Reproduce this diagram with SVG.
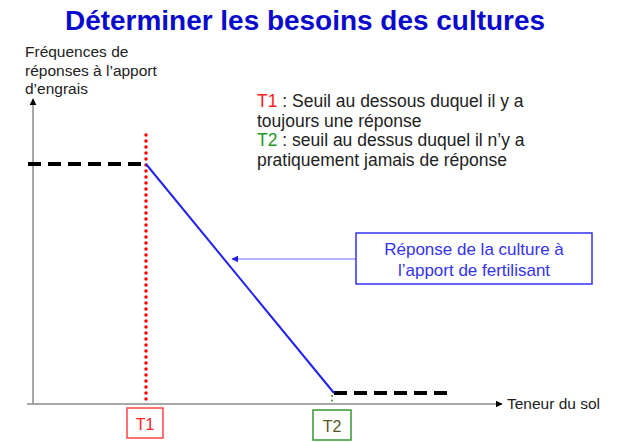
<svg xmlns="http://www.w3.org/2000/svg" width="642" height="442" viewBox="0 0 642 442">
<style>
text{font-family:"Liberation Sans",Arial,sans-serif;}
.title{font-size:28px;font-weight:bold;fill:#0A0ACC;}
.lbl{font-size:15.5px;fill:#222;}
.txt{font-size:17.5px;fill:#222;}
.call{font-size:17px;fill:#3333EE;}
.axis{stroke:#8a8a8a;stroke-width:1.5;fill:none;}
.dash{stroke:#000;stroke-width:4;stroke-dasharray:13 7;fill:none;}
</style>
<defs>
<marker id="ah" viewBox="0 0 10 10" refX="9" refY="5" markerWidth="7" markerHeight="7" markerUnits="userSpaceOnUse" orient="auto">
<path d="M0,0 L10,5 L0,10 z" fill="#000"/>
</marker>
<marker id="ahb" viewBox="0 0 10 10" refX="9" refY="5" markerWidth="7" markerHeight="7" markerUnits="userSpaceOnUse" orient="auto">
<path d="M0,0 L10,5 L0,10 z" fill="#2222DD"/>
</marker>
</defs>
<rect width="642" height="442" fill="#fff"/>
<text class="title" x="305" y="30" text-anchor="middle" textLength="480" lengthAdjust="spacingAndGlyphs">Déterminer les besoins des cultures</text>

<g id="y-axis-label">
<text class="lbl" x="25" y="57">Fréquences de</text>
<text class="lbl" x="25" y="76">réponses à l’apport</text>
<text class="lbl" x="25" y="94">d’engrais</text>
</g>

<g id="legend">
<text class="txt" x="257" y="107"><tspan fill="#FF2222">T1</tspan> : Seuil au dessous duquel il y a</text>
<text class="txt" x="257" y="127">toujours une réponse</text>
<text class="txt" x="257" y="146"><tspan fill="#229922">T2</tspan> : seuil au dessus duquel il n’y a</text>
<text class="txt" x="257" y="166">pratiquement jamais de réponse</text>
</g>

<g id="axes">
<line class="axis" x1="33" y1="404" x2="33" y2="99" marker-end="url(#ah)"/>
<line class="axis" x1="27" y1="404" x2="502" y2="404" marker-end="url(#ah)"/>
<text class="lbl" x="507" y="409">Teneur du sol</text>
</g>

<g id="connectors">
<line x1="146" y1="135" x2="146" y2="404" stroke="#FF0000" stroke-width="3.5" stroke-linecap="round" stroke-dasharray="0 6"/>
<line x1="332" y1="396" x2="332" y2="404" stroke="#339933" stroke-width="2" stroke-linecap="round" stroke-dasharray="0 4.5"/>
<line class="dash" x1="28" y1="164" x2="146" y2="164"/>
<line class="dash" x1="334" y1="393" x2="452" y2="393"/>
<line x1="146" y1="164" x2="334" y2="393" stroke="#2222EE" stroke-width="2"/>
<line x1="356" y1="259" x2="232" y2="259" stroke="#9999FF" stroke-width="1.5" marker-end="url(#ahb)"/>
</g>

<g id="callout">
<rect x="356" y="233" width="236" height="51" fill="#fff" stroke="#3333EE" stroke-width="1.5"/>
<text class="call" x="474" y="255" text-anchor="middle">Réponse de la culture à</text>
<text class="call" x="474" y="276" text-anchor="middle">l’apport de fertilisant</text>
</g>

<g id="T1">
<rect x="127" y="408" width="36" height="30" fill="#fff" stroke="#FF4444" stroke-width="1.5"/>
<text x="145" y="430" text-anchor="middle" font-size="16" fill="#FF2222">T1</text>
</g>

<g id="T2">
<rect x="313" y="410" width="38" height="30" fill="#fff" stroke="#339933" stroke-width="1.5"/>
<text x="332" y="432" text-anchor="middle" font-size="16" fill="#555522">T2</text>
</g>
</svg>
